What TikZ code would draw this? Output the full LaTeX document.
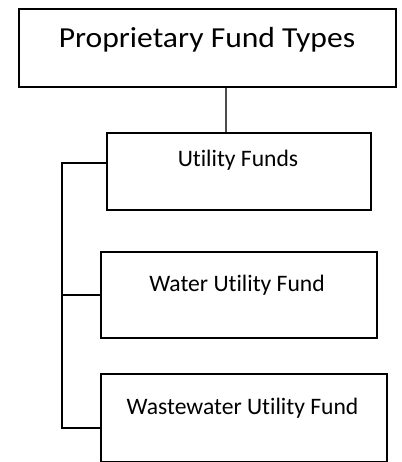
\documentclass[tikz,border=0pt]{standalone}
\usepackage{fontspec}
\usepackage{graphicx}
\setmainfont[Ligatures=NoCommon]{Carlito}
\begin{document}
\begin{tikzpicture}[x=1pt,y=-1pt,
  box/.style={draw=black,line width=2pt,inner sep=0pt,anchor=north west},
  lbl/.style={anchor=base,inner sep=0pt},
  link/.style={draw=black,line width=2pt},
  stem/.style={draw=black!70,line width=1.4pt},
  big/.style={font=\fontsize{29}{33}\selectfont},
  small/.style={font=\fontsize{23.6}{28}\selectfont}]
\useasboundingbox (0,0) rectangle (401,462);
\node[box,minimum width=377pt,minimum height=78pt] (top) at (18,8) {};
\node[lbl,big] (toptxt) at (207,48) {\scalebox{1.09}[1]{Proprietary Fund Types}};
\node[box,minimum width=264pt,minimum height=77pt] (util) at (106,132) {};
\node[lbl,small] (utiltxt) at (238,167) {Utility Funds};
\node[box,minimum width=276pt,minimum height=86pt] (water) at (100,251) {};
\node[lbl,small] (watertxt) at (237,291) {Water Utility Fund};
\node[box,minimum width=286pt,minimum height=88pt] (waste) at (100,373) {};
\node[lbl,small] (wastetxt) at (242.5,414) {Wastewater Utility Fund};
\coordinate (bus1) at (62,163);
\coordinate (bus2) at (62,295);
\coordinate (bus3) at (62,428);
\draw[stem] (top.south -| 226,0) -- (util.north -| 226,0);
\draw[link] (util.west |- bus1) -- (bus1) -- (bus3) -- (waste.west |- bus3);
\draw[link] (bus2) -- (water.west |- bus2);
\end{tikzpicture}
\end{document}
